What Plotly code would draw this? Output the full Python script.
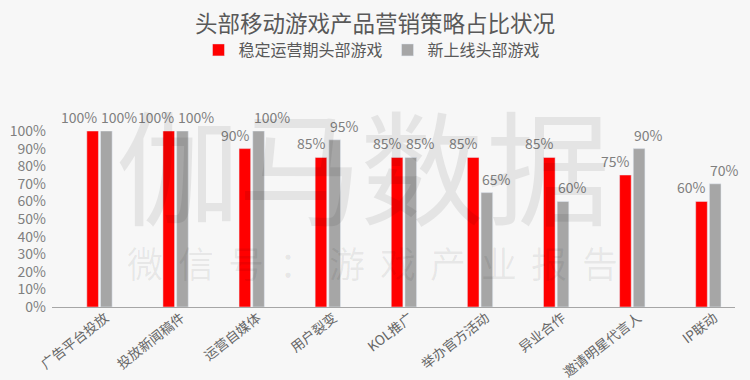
import plotly.graph_objects as go

categories = ["广告平台投放", "投放新闻稿件", "运营自媒体", "用户裂变", "KOL推广",
              "举办官方活动", "异业合作", "邀请明星代言人", "IP联动"]
stable_games = [1.00, 1.00, 0.90, 0.85, 0.85, 0.85, 0.85, 0.75, 0.60]
new_games = [1.00, 1.00, 1.00, 0.95, 0.85, 0.65, 0.60, 0.90, 0.70]
series_names = ["稳定运营期头部游戏", "新上线头部游戏"]
title_text = "头部移动游戏产品营销策略占比状况"
wm_big = ["伽", "马", "数", "据"]
wm_small = ["微", "信", "号", "：", "游", "戏", "产", "业", "报", "告"]

FONT = "Noto Sans CJK SC, Noto Sans, sans-serif"
L, R, T, B = 52, 15, 131, 73
W, H = 750, 380
pw, ph = W - L - R, H - T - B

def px2x(px):
    return (px - L) / pw

def py2y(py):
    return (H - B - py) / ph

fig = go.Figure()
fig.add_trace(go.Bar(x=categories, y=stable_games, name=series_names[0],
                     marker=dict(color="#ff0000"), cliponaxis=False))
fig.add_trace(go.Bar(x=categories, y=new_games, name=series_names[1],
                     marker=dict(color="#a6a6a6"), cliponaxis=False))

annotations = []
# data labels: red label right-aligned to its bar, grey label left-aligned to its bar
for cat, v in zip(categories, stable_games):
    annotations.append(dict(text=f"{v:.0%}", x=cat, y=v, xref="x", yref="y",
                            xanchor="right", yanchor="bottom", xshift=0, yshift=2,
                            showarrow=False, font=dict(size=14, color="#7f7f7f", family=FONT)))
for cat, v in zip(categories, new_games):
    annotations.append(dict(text=f"{v:.0%}", x=cat, y=v, xref="x", yref="y",
                            xanchor="left", yanchor="bottom", xshift=0, yshift=2,
                            showarrow=False, font=dict(size=14, color="#7f7f7f", family=FONT)))

big_x = [178, 300, 422, 548]
for ch, cx in zip(wm_big, big_x):
    annotations.append(dict(text=ch, x=px2x(cx), y=py2y(162), xref="paper", yref="paper",
                            xanchor="center", yanchor="middle", showarrow=False,
                            font=dict(size=124, color="rgba(0,0,0,0.075)", family=FONT)))
for i, ch in enumerate(wm_small):
    cx = 145 + i * 50.5
    annotations.append(dict(text=ch, x=px2x(cx), y=py2y(262), xref="paper", yref="paper",
                            xanchor="center", yanchor="middle", showarrow=False,
                            font=dict(size=36, color="rgba(0,0,0,0.065)", family=FONT)))

fig.update_layout(
    width=W, height=H,
    margin=dict(l=L, r=R, t=T, b=B, autoexpand=False),
    paper_bgcolor="#f7f7f7", plot_bgcolor="#f7f7f7",
    font=dict(family=FONT, color="#595959"),
    title=dict(text=title_text, x=0.5, xanchor="center", y=1 - 24 / H, yanchor="middle",
               font=dict(size=22.5, color="#595959")),
    legend=dict(orientation="h", x=px2x(372), xanchor="center", y=1 + (T - 50) / ph,
                yanchor="middle", font=dict(size=16, color="#595959"),
                bgcolor="rgba(0,0,0,0)", itemwidth=30, tracegroupgap=0),
    barmode="group", bargap=0.64, bargroupgap=0.15,
    annotations=annotations,
    showlegend=True,
)
fig.update_xaxes(
    type="category", range=[-0.624, 8.35], showgrid=False, showline=True,
    linecolor="#a6a6a6", linewidth=1, ticks="", tickangle=-38, automargin=False,
    tickfont=dict(size=13.5, color="#666666"), fixedrange=True,
    ticklabelshift=6, ticklabelstandoff=-3,
)
fig.update_yaxes(
    range=[0, 1.0], dtick=0.1, tickformat=".0%", showgrid=False, zeroline=False,
    showline=False, tickfont=dict(size=14, color="#7f7f7f"), ticks="", fixedrange=True,
    automargin=False, ticklabelstandoff=5,
)

fig.write_html("out.html", config={"displayModeBar": False},
               post_script="document.body.style.margin='0';")
